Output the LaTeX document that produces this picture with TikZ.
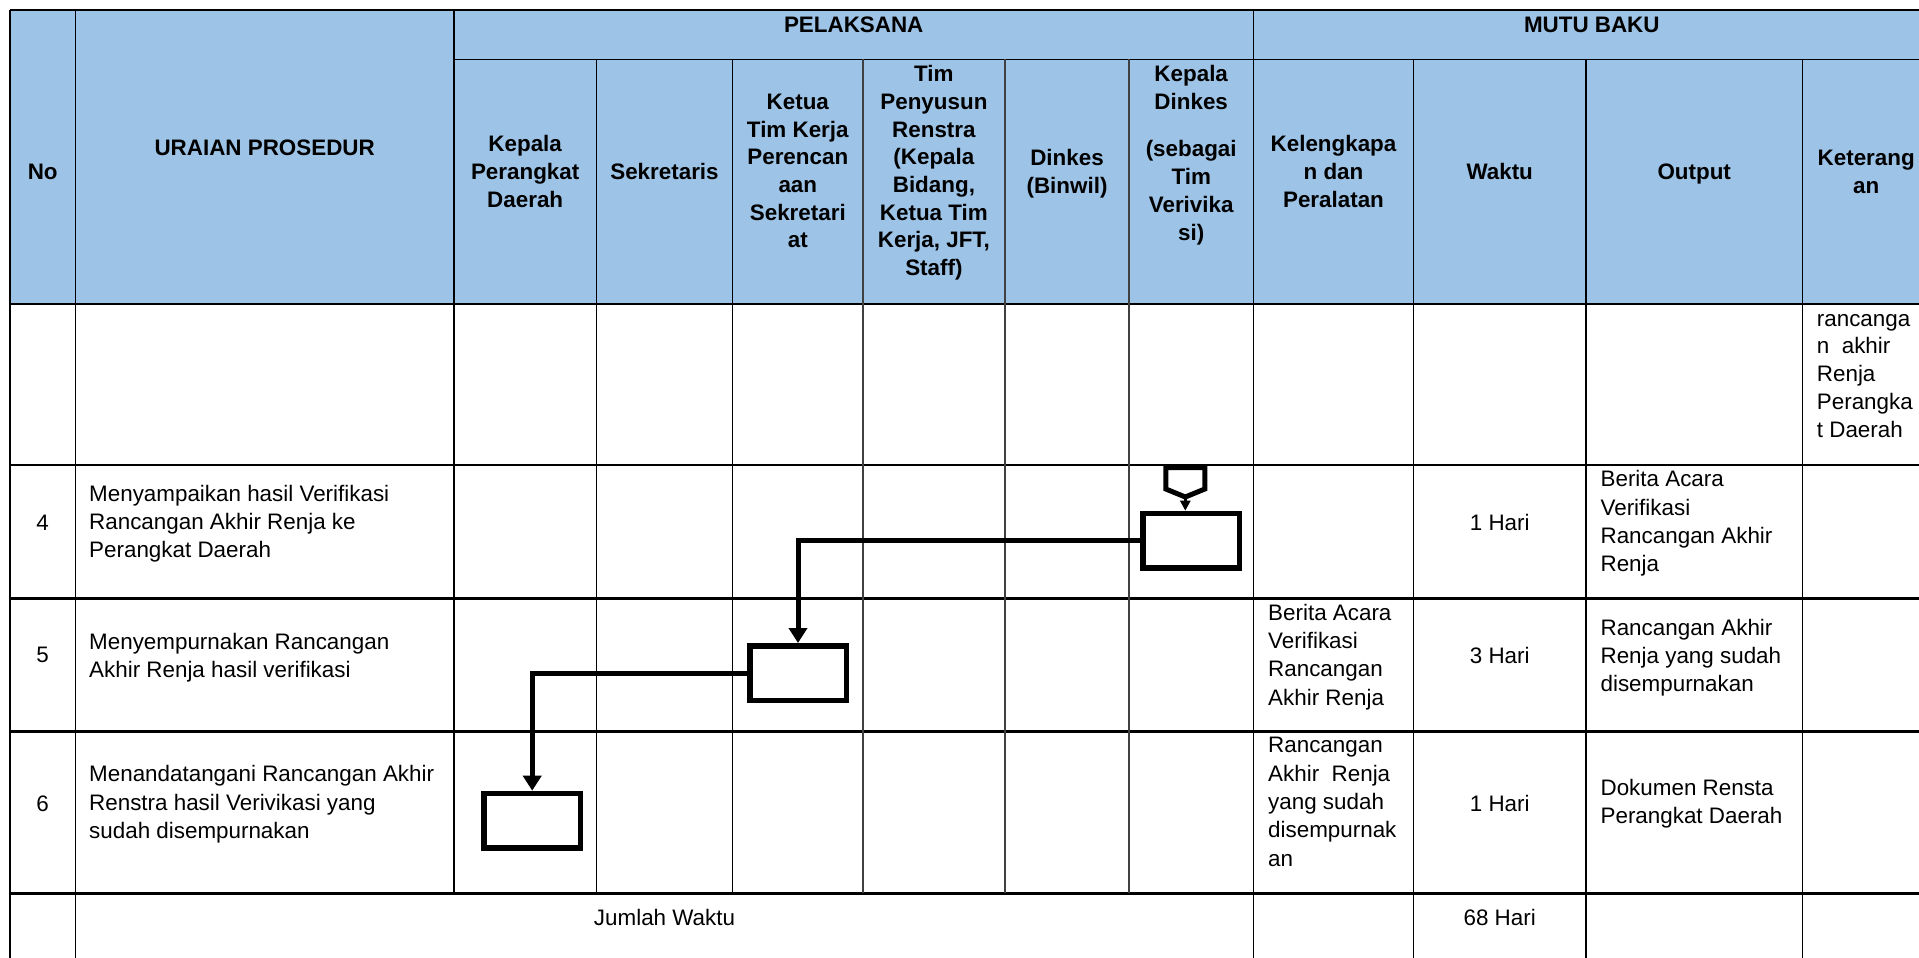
\documentclass[tikz,border=0pt]{standalone}
\usepackage{fontspec}
\setmainfont{Liberation Sans}
\usetikzlibrary{arrows.meta}
\definecolor{hdrblue}{RGB}{157,195,230}
\begin{document}
\begin{tikzpicture}[x=1pt,y=-1pt,
 hdr/.style={font=\bfseries\fontsize{22.4}{27.7}\selectfont, align=center, inner sep=0pt, anchor=base},
 bodyl/.style={font=\fontsize{22.4}{28.3}\selectfont, align=left, inner sep=0pt, anchor=base west},
 bodyc/.style={font=\fontsize{22.4}{28.3}\selectfont, inner sep=0pt, anchor=base},
 thinline/.style={line width=1.2pt, black},
 grayline/.style={line width=1.2pt, black!75},
 thickline/.style={line width=2.7pt, black},
 flowbox/.style={draw, line width=5.5pt, minimum width=96.5pt, minimum height=54.5pt, inner sep=0pt},
 flowline/.style={line width=5pt, line join=miter, -{Triangle[width=18pt,length=15pt]}},
]
\useasboundingbox (0,0) rectangle (1919,958);
\clip (0,0) rectangle (1919,958);
% header fill
\fill[hdrblue] (10,10) rectangle (1930,304);
% horizontal lines
\draw[thickline] (10,10) -- (1930,10);
\draw[thinline] (454,59.3) -- (1930,59.3);
\draw[thickline] (10,304) -- (1930,304);
\draw[thinline] (10,465) -- (1930,465);
\draw[thickline] (10,598.3) -- (1930,598.3);
\draw[thickline] (10,731.7) -- (1930,731.7);
\draw[thickline] (10,893.3) -- (1930,893.3);
% vertical lines
\draw[thinline] (10,10) -- (10,958);
\draw[thinline] (75.5,10) -- (75.5,958);
\draw[thinline] (454,10) -- (454,893.3);
\draw[thinline] (1253.5,10) -- (1253.5,958);
\draw[thinline] (1413.5,59.3) -- (1413.5,958);
\draw[thinline] (1586,59.3) -- (1586,958);
\draw[thinline] (1802.4,59.3) -- (1802.4,958);
\draw[thinline] (596.3,59.3) -- (596.3,893.3);
\draw[thinline] (732.7,59.3) -- (732.7,893.3);
\draw[grayline] (862.9,59.3) -- (862.9,893.3);
\draw[grayline] (1004.9,59.3) -- (1004.9,893.3);
\draw[grayline] (1129,59.3) -- (1129,893.3);
% header texts (anchor = baseline of last line)
\node[hdr] (hNo) at (42.7,179.3) {No};
\node[hdr] (hUr) at (264.7,155) {URAIAN PROSEDUR};
\node[hdr] (hPel) at (853.7,32.3) {PELAKSANA};
\node[hdr] (hMutu) at (1591.8,32.3) {MUTU BAKU};
\node[hdr] (hKPD) at (525.2,207.1) {Kepala\\Perangkat\\Daerah};
\node[hdr] (hSek) at (664.5,179.3) {Sekretaris};
\node[hdr] (hKet) at (797.8,247.8) {Ketua\\Tim Kerja\\Perencan\\aan\\Sekretari\\at};
\node[hdr] (hTim) at (933.9,275.6) {Tim\\Penyusun\\Renstra\\(Kepala\\Bidang,\\Ketua Tim\\Kerja, JFT,\\Staff)};
\node[hdr] (hDin) at (1067,193.4) {Dinkes\\(Binwil)};
\node[hdr] (hKD1) at (1191.2,109.3) {Kepala\\Dinkes};
\node[hdr] (hKD2) at (1191.2,240) {(sebagai\\Tim\\Verivika\\si)};
\node[hdr] (hKel) at (1333.5,207.1) {Kelengkapa\\n dan\\Peralatan};
\node[hdr] (hWak) at (1499.7,179.3) {Waktu};
\node[hdr] (hOut) at (1694.2,179.3) {Output};
\node[hdr] (hKtr) at (1866.2,193.4) {Keterang\\an};
% blank row
\node[bodyl, font=\fontsize{22.4}{27.8}\selectfont] (k0) at (1816.7,437.3) {rancanga\\n\ \ akhir\\Renja\\Perangka\\t Daerah};
% row 4
\node[bodyc] (n4) at (42.7,530) {4};
\node[bodyl] (u4) at (89,557.6) {Menyampaikan hasil Verifikasi\\Rancangan Akhir Renja ke\\Perangkat Daerah};
\node[bodyc] (w4) at (1499.7,530) {1 Hari};
\node[bodyl] (o4) at (1600.4,571.7) {Berita Acara\\Verifikasi\\Rancangan Akhir\\Renja};
% row 5
\node[bodyc] (n5) at (42.7,662.7) {5};
\node[bodyl] (u5) at (89,677.6) {Menyempurnakan Rancangan\\Akhir Renja hasil verifikasi};
\node[bodyl] (l5) at (1268,705) {Berita Acara\\Verifikasi\\Rancangan\\Akhir Renja};
\node[bodyc] (w5) at (1499.7,663.3) {3 Hari};
\node[bodyl] (o5) at (1600.4,691.6) {Rancangan Akhir\\Renja yang sudah\\disempurnakan};
% row 6
\node[bodyc] (n6) at (42.7,811.7) {6};
\node[bodyl] (u6) at (89,838.3) {Menandatangani Rancangan Akhir\\Renstra hasil Verivikasi yang\\sudah disempurnakan};
\node[bodyl] (l6) at (1268,866) {Rancangan\\Akhir\ \ Renja\\yang sudah\\disempurnak\\an};
\node[bodyc] (w6) at (1499.7,811.7) {1 Hari};
\node[bodyl] (o6) at (1600.4,823.3) {Dokumen Rensta\\Perangkat Daerah};
% total row
\node[bodyc] (jt) at (664.5,925) {Jumlah Waktu};
\node[bodyc] (jw) at (1499.7,925) {68 Hari};
% flow
\node[flowbox] (b4) at (1191,540.7) {};
\node[flowbox] (b5) at (798,673) {};
\node[flowbox] (b6) at (532.2,820.7) {};
\draw[line width=5pt, line join=miter] (1165.8,467.5) -- (1204.8,467.5) -- (1204.8,489) -- (1185.3,497) -- (1165.8,489) -- cycle;
\coordinate (opc) at (1185.3,497);
\draw[line width=2.5pt, -{Triangle[width=10pt,length=10pt]}] (opc) -- (opc |- b4.north);
\draw[flowline] (b4.west) -| (b5.north);
\draw[flowline] (b5.west) -| (b6.north);
\end{tikzpicture}
\end{document}
